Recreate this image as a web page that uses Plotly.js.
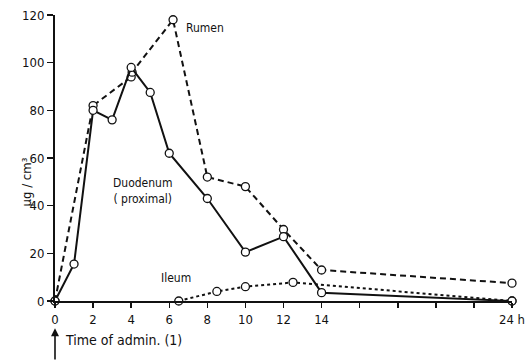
<!DOCTYPE html>
<html><head><meta charset="utf-8">
<script src="https://cdn.plot.ly/plotly-3.0.1.min.js"></script>
<style>html,body{margin:0;padding:0;background:#fff}#chart{width:527px;height:361px}</style>
</head><body><div id="chart"></div>
<script>
// Hours after administration
const rumenHours = [0, 2, 4, 4.05, 6.2, 8, 10, 12, 14, 24];
const rumenValues = [0, 82, 94, 96, 118, 52, 48, 30, 13, 7.5];
const duodenumHours = [0, 1, 2, 3, 4, 5, 6, 8, 10, 12, 14, 24];
const duodenumValues = [0, 15.5, 80, 76, 98, 87.5, 62, 43, 20.5, 27, 3.5, 0];
const ileumHours = [6.5, 8.5, 10, 12.5, 24];
const ileumValues = [0, 4, 6, 7.8, 0];
const xTickVals = [0, 2, 4, 6, 8, 10, 12, 14, 16, 18, 20, 22, 24];
const xTickText = ['0', '2', '4', '6', '8', '10', '12', '14', '', '', '', '', '24 h'];
const yTickVals = [0, 20, 40, 60, 80, 100, 120];

const FONT = '"DejaVu Sans Condensed", "DejaVu Sans", sans-serif';
const marker = {symbol: 'circle', size: 8, color: '#fff', line: {width: 1.3, color: '#111'}};

const traces = [
  {x: rumenHours, y: rumenValues, name: 'Rumen', mode: 'lines+markers', cliponaxis: false,
   line: {color: '#111', width: 2, dash: '6px,4px'}, marker: marker},
  {x: duodenumHours, y: duodenumValues, name: 'Duodenum', mode: 'lines+markers', cliponaxis: false,
   line: {color: '#111', width: 2}, marker: marker},
  {x: ileumHours, y: ileumValues, name: 'Ileum', mode: 'lines+markers', cliponaxis: false,
   line: {color: '#111', width: 2, dash: 'dot'}, marker: marker}
];

const layout = {
  width: 527, height: 361,
  margin: {l: 55, r: 15, t: 15, b: 60},
  paper_bgcolor: '#fff', plot_bgcolor: '#fff',
  showlegend: false,
  font: {family: FONT, size: 12, color: '#111'},
  xaxis: {range: [0, 24], tickvals: xTickVals, ticktext: xTickText, ticks: 'outside', ticklen: 5,
    tickwidth: 1.5, tickcolor: '#111', showline: true, linecolor: '#111', linewidth: 2,
    showgrid: false, zeroline: false, tickfont: {family: FONT, size: 13}},
  yaxis: {range: [0, 120], tickvals: yTickVals, ticks: 'outside', ticklen: 6, tickwidth: 1.5,
    tickcolor: '#111', showline: true, linecolor: '#111', linewidth: 2, showgrid: false,
    zeroline: false, tickfont: {family: FONT, size: 13}},
  annotations: [
    {x: 6.75, y: 114.5, xref: 'x', yref: 'y', text: 'Rumen', showarrow: false, xanchor: 'left', font: {size: 12}},
    {x: 4.57, y: 46, xref: 'x', yref: 'y', text: 'Duodenum<br>( proximal)', showarrow: false, font: {size: 12}},
    {x: 6.35, y: 9.6, xref: 'x', yref: 'y', text: 'Ileum', showarrow: false, font: {size: 12}},
    {x: 0.4, y: -0.135, xref: 'x', yref: 'paper', text: 'Time of admin. (1)', showarrow: false,
     xanchor: 'left', yanchor: 'middle', font: {size: 14}},
    {x: 0, y: -0.095, xref: 'x', yref: 'paper', text: '', showarrow: true, arrowhead: 2,
     arrowsize: 1, arrowwidth: 1.6, arrowcolor: '#111', ax: 0, ay: 36},
    {x: -0.083, y: 50, xref: 'paper', yref: 'y', text: 'µg / cm³', showarrow: false,
     textangle: -90, font: {size: 13}}
  ]
};

Plotly.newPlot('chart', traces, layout, {displayModeBar: false, staticPlot: true});
</script></body></html>
